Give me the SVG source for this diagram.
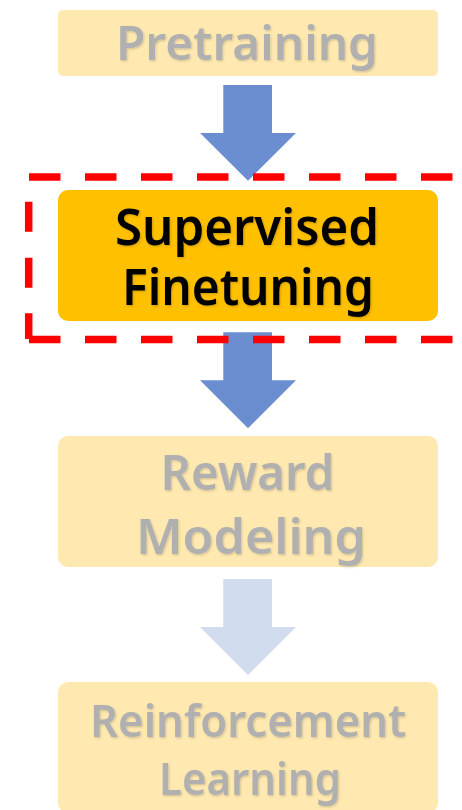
<svg xmlns="http://www.w3.org/2000/svg" width="462" height="810" viewBox="0 0 462 810">
  <defs>
    <filter id="soft-shadow" x="-10%" y="-20%" width="120%" height="150%">
      <feDropShadow dx="1" dy="1.2" stdDeviation="1" flood-color="#000000" flood-opacity="0.18"/>
    </filter>
  </defs>
  <style>
    .box-dim { fill: #FFE9B0; }
    .box-active { fill: #FFC000; }
    .label { font-family: "Noto Sans", "Liberation Sans", sans-serif; font-weight: 600; text-anchor: middle; filter: url(#soft-shadow); }
    .label-dim { fill: #B0B0B0; }
    .label-active { fill: #000000; }
    .arrow { fill: #6A8ECF; }
    .arrow-dim { fill: #D1DCEF; }
    .highlight { fill: none; stroke: #FF0000; stroke-width: 7.5; stroke-linecap: butt; }
  </style>

  <!-- pipeline stages -->
  <g id="pretraining">
    <rect class="box-dim" x="58" y="10" width="380" height="66" rx="5"/>
    <text class="label label-dim" x="247" y="60" font-size="46" textLength="262" lengthAdjust="spacingAndGlyphs">Pretraining</text>
  </g>

  <g id="supervised-finetuning">
    <rect class="box-active" x="58" y="190" width="380" height="131" rx="10"/>
    <text class="label label-active" x="247" y="244.5" font-size="50" textLength="264" lengthAdjust="spacingAndGlyphs">Supervised</text>
    <text class="label label-active" x="248" y="305" font-size="50" textLength="252" lengthAdjust="spacingAndGlyphs">Finetuning</text>
  </g>

  <g id="reward-modeling">
    <rect class="box-dim" x="58" y="436" width="380" height="131" rx="10"/>
    <text class="label label-dim" x="247.5" y="490" font-size="48" textLength="174" lengthAdjust="spacingAndGlyphs">Reward</text>
    <text class="label label-dim" x="251" y="554" font-size="48" textLength="230" lengthAdjust="spacingAndGlyphs">Modeling</text>
  </g>

  <g id="reinforcement-learning">
    <rect class="box-dim" x="58" y="682" width="380" height="131" rx="10"/>
    <text class="label label-dim" x="248" y="737" font-size="45" textLength="316" lengthAdjust="spacingAndGlyphs">Reinforcement</text>
    <text class="label label-dim" x="250" y="795" font-size="45" textLength="182" lengthAdjust="spacingAndGlyphs">Learning</text>
  </g>

  <!-- block arrows between stages -->
  <g id="connectors">
    <path class="arrow" d="M223.3 85 H272 V133 H296 L248 180.7 L200 133 H223.3 Z"/>
    <path class="arrow" d="M223.3 332.3 H272 V380.3 H296 L248 428.3 L200 380.3 H223.3 Z"/>
    <path class="arrow-dim" d="M223.3 579 H272 V627 H296 L248 675 L200 627 H223.3 Z"/>
  </g>

  <!-- dashed highlight frame around the current stage -->
  <g id="highlight-frame">
    <path class="highlight" d="M29 177 H470" stroke-dasharray="31.5 24.5"/>
    <path class="highlight" d="M29 339.5 H470" stroke-dasharray="31.5 24.5"/>
    <path class="highlight" d="M28.7 339 V313.3 M28.7 287.7 V257.7 M28.7 231.7 V201.7"/>
  </g>
</svg>
